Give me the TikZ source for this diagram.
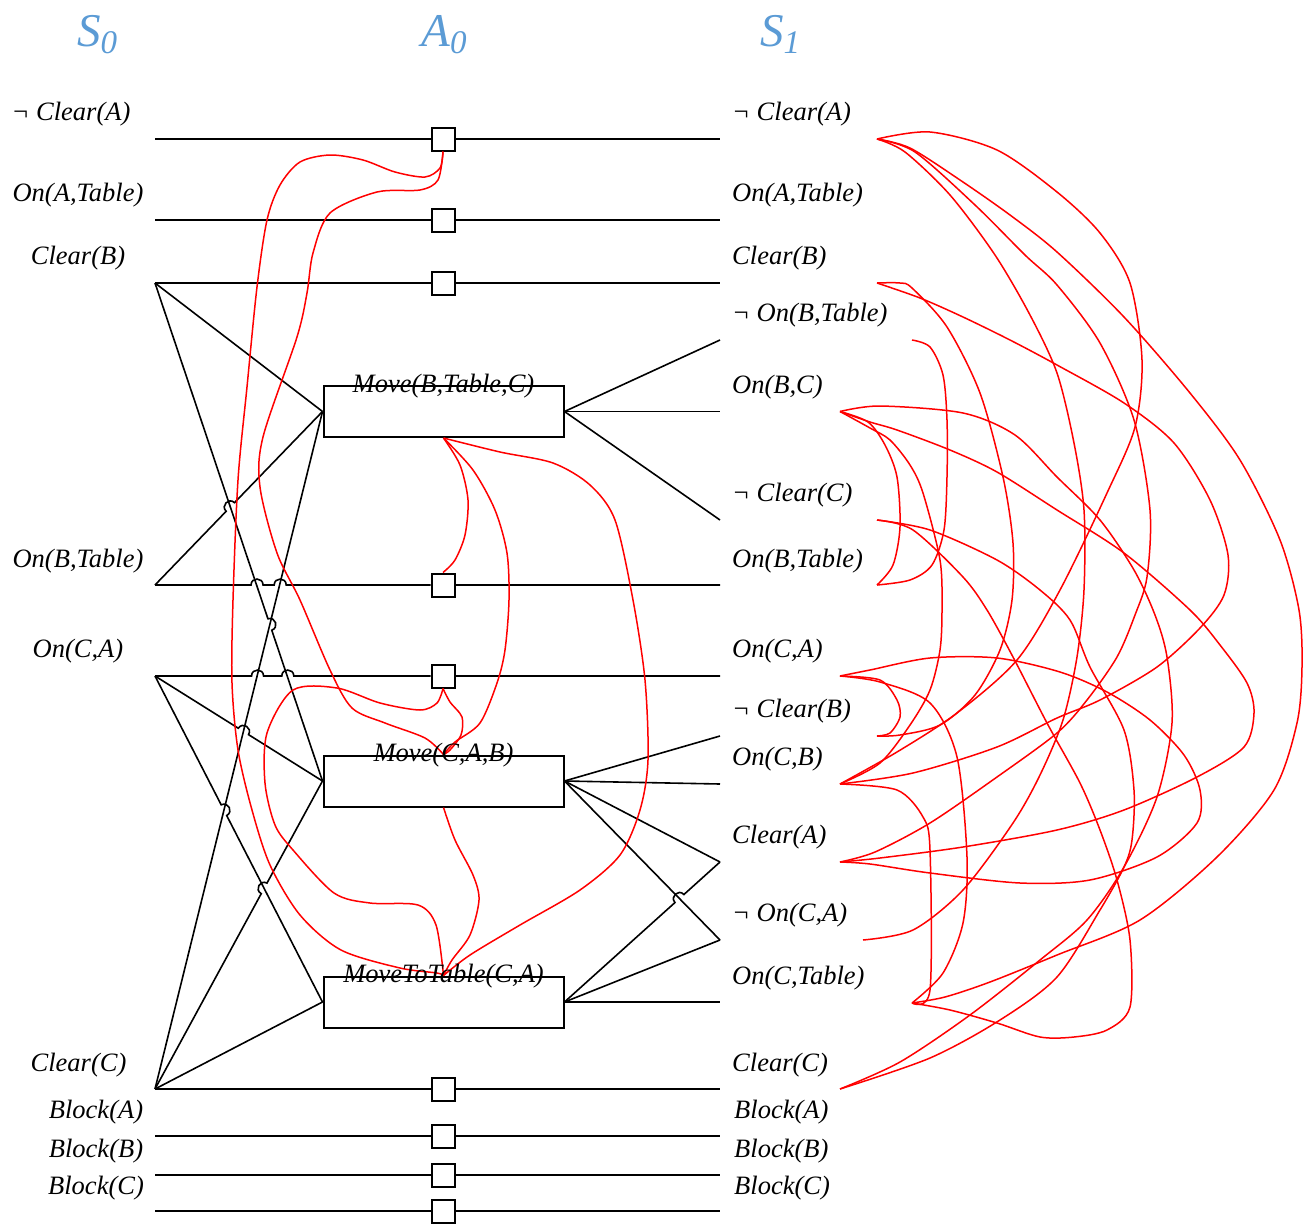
\documentclass[tikz,border=0pt]{standalone}
\usepackage{fontspec}
\setmainfont{Liberation Serif}
\usetikzlibrary{calc}
\definecolor{hdrblue}{RGB}{91,155,213}
\begin{document}
\begin{tikzpicture}[x=1pt,y=-1pt,
  wire/.style={line width=1.6pt},
  noop/.style={draw,line width=2pt,fill=white,minimum size=23pt,inner sep=0pt},
  act/.style={draw,line width=2pt,fill=white,minimum width=240pt,minimum height=51pt,inner sep=0pt},
  lbl/.style={font=\fontsize{26.5}{30}\selectfont\itshape,inner sep=0pt},
  mutex/.style={red,line width=1.5pt},
  hopto/.style={bend left=90,looseness=1.7},
  hp/.style n args={3}{insert path={-- ($(#1)!#3!(#2)!6pt!(#1)$) to[hopto] ($(#1)!#3!(#2)!6pt!(#2)$)}},
  hdr/.style={text=hdrblue,font=\fontsize{47}{50}\selectfont\itshape,inner sep=0pt,anchor=base}]
\useasboundingbox (0,0) rectangle (1307,1224);

% headers
\node[hdr] (hS0) at (97,46) {S\raisebox{-7pt}{\fontsize{33}{33}\selectfont 0}};
\node[hdr] (hA0) at (444,46) {A\raisebox{-7pt}{\fontsize{33}{33}\selectfont 0}};
\node[hdr] (hS1) at (780,46) {S\raisebox{-7pt}{\fontsize{33}{33}\selectfont 1}};

% left literal points
\coordinate (LnA) at (155,139);
\coordinate (LoAT) at (155,220);
\coordinate (LcB) at (155,283);
\coordinate (LoBT) at (155,585);
\coordinate (LoCA) at (155,676);
\coordinate (LcC) at (155,1089);
\coordinate (LbA) at (155,1136);
\coordinate (LbB) at (155,1175);
\coordinate (LbC) at (155,1211);
% right literal points
\coordinate (RnA) at (720,139);
\coordinate (RoAT) at (720,220);
\coordinate (RcB) at (720,283);
\coordinate (RoBT) at (720,585);
\coordinate (RoCA) at (720,676);
\coordinate (RcC) at (720,1089);
\coordinate (RbA) at (720,1136);
\coordinate (RbB) at (720,1175);
\coordinate (RbC) at (720,1211);
\coordinate (EnOBT) at (720,340);
\coordinate (EoBC) at (720,411.5);
\coordinate (EnCC) at (720,520);
\coordinate (EnCB) at (720,736);
\coordinate (EoCB) at (720,784);
\coordinate (EcA) at (720,862);
\coordinate (EnOCA) at (720,940);
\coordinate (EoCT) at (720,1002);

% actions
\node[act] (MBTC) at (443.5,411.5) {};
\node[act] (MCAB) at (443.5,781) {};
\node[act] (MTT) at (443.5,1002) {};
% noops
\foreach \n/\y in {NnA/139,NoAT/220,NcB/283,NoBT/585,NoCA/676,NcC/1089,NbA/1136,NbB/1175,NbC/1211}
  \node[noop] (\n) at (443,\y) {};

% persistence lines
\draw[wire] (LnA) -- (NnA) -- (RnA);
\draw[wire] (LoAT) -- (NoAT) -- (RoAT);
\draw[wire] (LcB) -- (NcB) -- (RcB);
\draw[wire] (LoBT) [hp={LoBT}{NoBT.west}{0.3704}] [hp={LoBT}{NoBT.west}{0.4544}] -- (NoBT) -- (RoBT);
\draw[wire] (LoCA) [hp={LoCA}{NoCA.west}{0.3722}] [hp={LoCA}{NoCA.west}{0.4820}] -- (NoCA) -- (RoCA);
\draw[wire] (LcC) -- (NcC) -- (RcC);
\draw[wire] (LbA) -- (NbA) -- (RbA);
\draw[wire] (LbB) -- (NbB) -- (RbB);
\draw[wire] (LbC) -- (NbC) -- (RbC);

% preconditions
\draw[wire] (LcB) -- (MBTC.west);
\draw[wire] (LcB) [hp={LcB}{MCAB.west}{0.6857}] -- (MCAB.west);
\draw[wire] (LoBT) [hp={LoBT}{MBTC.west}{0.4497}] -- (MBTC.west);
\draw[wire] (LoCA) [hp={LoCA}{MCAB.west}{0.5278}] -- (MCAB.west);
\draw[wire] (LoCA) [hp={LoCA}{MTT.west}{0.4116}] -- (MTT.west);
\draw[wire] (LcC) -- (MBTC.west);
\draw[wire] (LcC) [hp={LcC}{MCAB.west}{0.6514}] -- (MCAB.west);
\draw[wire] (LcC) -- (MTT.west);

% effects
\draw[wire] (MBTC.east) -- (EnOBT);
\draw[wire] (MBTC.east) -- (EoBC);
\draw[wire] (MBTC.east) -- (EnCC);
\draw[wire] (MCAB.east) -- (EnCB);
\draw[wire] (MCAB.east) -- (EoCB);
\draw[wire] (MCAB.east) -- (EcA);
\draw[wire] (MCAB.east) -- (EnOCA);
\draw[wire] (MTT.east) [hp={MTT.east}{EcA}{0.7391}] -- (EcA);
\draw[wire] (MTT.east) -- (EnOCA);
\draw[wire] (MTT.east) -- (EoCT);

% action mutexes
\draw[mutex] plot[smooth] coordinates {(NnA.south) (440,168) (425,177) (395,172) (363,160) (330,155) (300,162) (280,185) (267,220) (257,287) (247,387) (238,480) (233,600) (232,683) (238,750) (252,810) (270,865) (300,915) (341,950) (400,968) (437,973) (MTT.north)};
\draw[mutex] plot[smooth] coordinates {(NnA.south) (438,180) (420,190) (377,192) (330,213) (313,253) (307,293) (297,337) (263,437) (260,487) (277,553) (300,600) (330,670) (352,708) (385,723) (425,738) (MCAB.north)};
\draw[mutex] plot[smooth] coordinates {(NoCA.south) (450,702) (462,717) (461,735) (450,750) (MCAB.north)};
\draw[mutex] plot[smooth] coordinates {(NoCA.south) (437,703) (420,710) (380,703) (337,688) (293,690) (267,733) (265,783) (275,825) (293,850) (334,893) (370,903) (418,905) (436,925) (MTT.north)};
\draw[mutex] plot[smooth] coordinates {(MCAB.south) (455,840) (473,875) (479,900) (470,935) (452,960) (MTT.north)};
\draw[mutex] plot[smooth] coordinates {(MBTC.south) (460,465) (468,500) (465,535) (455,560) (NoBT.north)};
\draw[mutex] plot[smooth] coordinates {(MBTC.south) (473,470) (495,510) (507,553) (509,600) (505,650) (497,683) (480,723) (455,742) (MCAB.north)};
\draw[mutex] plot[smooth] coordinates {(MBTC.south) (500,452) (553,463) (590,485) (615,520) (633,600) (645,680) (648,760) (640,810) (620,855) (580,890) (520,925) (470,955) (MTT.north)};

% literal mutex endpoints
\coordinate (mnA) at (877,139);
\coordinate (mcB) at (877,283);
\coordinate (mnOBT) at (912,340);
\coordinate (moBC) at (840,411.5);
\coordinate (mnCC) at (877,520);
\coordinate (moBT) at (877,585);
\coordinate (moCA) at (840,676);
\coordinate (mnCB) at (877,736);
\coordinate (moCB) at (840,784);
\coordinate (mcA) at (840,862);
\coordinate (mnOCA) at (863,940);
\coordinate (moCT) at (912,1003);
\coordinate (mcC) at (840,1089);

\draw[mutex] plot[smooth] coordinates {(mnA) (930,132) (997,150) (1057,192) (1100,233) (1130,283) (1142,360) (1135,427) (1107,493) (1060,590) (1017,660) (957,713) (897,752) (moCB)};
\draw[mutex] plot[smooth] coordinates {(mnA) (910,148) (960,180) (1010,215) (1057,252) (1124,317) (1190,393) (1240,460) (1280,540) (1299,610) (1302,667) (1297,723) (1274,790) (1217,857) (1140,920) (1057,955) (990,982) (945,997) (moCT)};
\draw[mutex] plot[smooth] coordinates {(mnA) (915,152) (975,205) (1025,255) (1057,285) (1100,343) (1134,420) (1150,510) (1147,577) (1135,615) (1117,657) (1087,700) (1057,733) (997,777) (930,823) (875,852) (mcA)};
\draw[mutex] plot[smooth] coordinates {(mnA) (905,152) (950,195) (995,255) (1030,315) (1057,373) (1074,443) (1084,510) (1084,590) (1077,657) (1063,720) (1040,775) (1013,823) (963,890) (913,930) (mnOCA)};
\draw[mutex] plot[smooth] coordinates {(mcB) (900,283) (912,288) (947,327) (980,393) (1003,477) (1013,543) (1012,600) (1000,650) (975,695) (940,725) (900,735) (mnCB)};
\draw[mutex] plot[smooth] coordinates {(mcB) (920,298) (963,317) (1010,340) (1057,365) (1124,403) (1174,443) (1210,500) (1228,555) (1224,595) (1200,628) (1157,667) (1100,700) (1057,718) (997,747) (913,773) (moCB)};
\draw[mutex] plot[smooth] coordinates {(mnOBT) (930,347) (943,375) (947,420) (947,477) (944,530) (932,565) (910,580) (moBT)};
\draw[mutex] plot[smooth] coordinates {(moBC) (868,422) (885,445) (897,477) (900,527) (893,565) (moBT)};
\draw[mutex] plot[smooth] coordinates {(moBC) (880,406) (963,413) (1015,435) (1057,477) (1100,520) (1134,570) (1155,615) (1167,657) (1172,723) (1157,797) (1124,867) (1087,920) (1040,960) (970,1015) (900,1062) (mcC)};
\draw[mutex] plot[smooth] coordinates {(moBC) (870,422) (897,430) (950,450) (997,472) (1057,510) (1124,553) (1190,610) (1220,645) (1247,683) (1254,713) (1244,747) (1197,777) (1124,810) (1057,830) (963,847) (880,858) (mcA)};
\draw[mutex] plot[smooth] coordinates {(moBC) (870,428) (890,440) (910,465) (923,493) (940,560) (942,610) (940,650) (930,690) (910,725) (880,763) (moCB)};
\draw[mutex] plot[smooth] coordinates {(mnCC) (930,530) (997,560) (1040,590) (1070,620) (1090,667) (1124,730) (1134,790) (1132,840) (1124,867) (1100,910) (1057,977) (1000,1020) (930,1058) (mcC)};
\draw[mutex] plot[smooth] coordinates {(mnCC) (913,530) (963,577) (987,610) (1013,657) (1047,723) (1080,783) (1100,830) (1117,880) (1130,940) (1130,1007) (1107,1030) (1074,1037) (1040,1037) (997,1023) (950,1010) (moCT)};
\draw[mutex] plot[smooth] coordinates {(moCA) (880,680) (897,700) (900,717) (890,733) (mnCB)};
\draw[mutex] plot[smooth] coordinates {(moCA) (880,682) (930,703) (957,757) (967,857) (963,923) (943,973) (moCT)};
\draw[mutex] plot[smooth] coordinates {(moCA) (870,670) (930,658) (997,658) (1060,672) (1107,692) (1150,720) (1184,755) (1200,790) (1197,823) (1157,857) (1090,880) (1020,883) (930,873) (870,864) (mcA)};
\draw[mutex] plot[smooth] coordinates {(moCB) (897,790) (923,817) (930,850) (930,990) (moCT)};

% action labels
\node[lbl] (tBTC) at (443.5,386) {Move(B,Table,C)};
\node[lbl] (tCAB) at (443.5,755) {Move(C,A,B)};
\node[lbl] (tTT) at (443.5,976) {MoveToTable(C,A)};

% left labels
\begin{scope}[every node/.style={lbl,anchor=base}]
\node (l1) at (71,120) {¬ Clear(A)};
\node (l2) at (78,201) {On(A,Table)};
\node (l3) at (78,264) {Clear(B)};
\node (l4) at (78,567) {On(B,Table)};
\node (l5) at (78,657) {On(C,A)};
\node (l6) at (78.5,1071) {Clear(C)};
\node (l7) at (96,1118) {Block(A)};
\node (l8) at (96,1157) {Block(B)};
\node (l9) at (96,1194) {Block(C)};
\end{scope}
% right labels
\begin{scope}[every node/.style={lbl,anchor=base west}]
\node (r1) at (732,120) {¬ Clear(A)};
\node (r2) at (732,201) {On(A,Table)};
\node (r3) at (732,264) {Clear(B)};
\node (r4) at (732,321) {¬ On(B,Table)};
\node (r5) at (732,393) {On(B,C)};
\node (r6) at (732,501) {¬ Clear(C)};
\node (r7) at (732,567) {On(B,Table)};
\node (r8) at (732,657) {On(C,A)};
\node (r9) at (732,717) {¬ Clear(B)};
\node (r10) at (732,765) {On(C,B)};
\node (r11) at (732,843) {Clear(A)};
\node (r12) at (732,921) {¬ On(C,A)};
\node (r13) at (732,984) {On(C,Table)};
\node (r14) at (732,1071) {Clear(C)};
\node (r15) at (734,1118) {Block(A)};
\node (r16) at (734,1157) {Block(B)};
\node (r17) at (734,1194) {Block(C)};
\end{scope}
\end{tikzpicture}
\end{document}
